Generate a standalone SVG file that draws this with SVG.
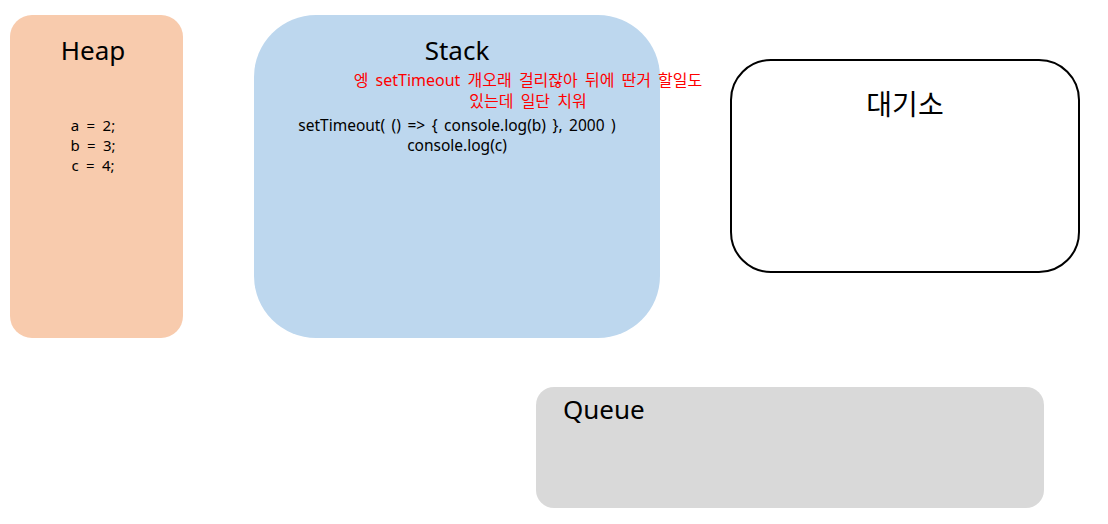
<svg xmlns="http://www.w3.org/2000/svg" width="1108" height="524" viewBox="0 0 1108 524">
<style>
text{font-family:"Noto Sans","Noto Sans CJK KR",sans-serif;fill:#000}
.t{font-size:26px}
.k{font-size:28px}
.s{font-size:15px;word-spacing:3.5px}
.c{font-size:15.5px;word-spacing:2.5px}
.r{font-size:16px;fill:#ff0000;word-spacing:3px}
</style>
<rect width="1108" height="524" fill="#fff"/>
<g id="heap">
<rect x="10" y="15" width="173" height="323" rx="22" fill="#f8cbad"/>
<text class="t" x="93" y="60" text-anchor="middle">Heap</text>
<text class="s" x="93" y="131" text-anchor="middle">a = 2;</text>
<text class="s" x="93" y="151" text-anchor="middle">b = 3;</text>
<text class="s" x="93" y="171" text-anchor="middle">c = 4;</text>
</g>
<g id="stack">
<rect x="254" y="15" width="406" height="323" rx="62" fill="#bdd7ee"/>
<text class="t" x="457" y="60" text-anchor="middle">Stack</text>
<text class="r" x="528" y="86" text-anchor="middle">엥 setTimeout 개오래 걸리잖아 뒤에 딴거 할일도</text>
<text class="r" x="528" y="107" text-anchor="middle">있는데 일단 치워</text>
<text class="c" x="457" y="131" text-anchor="middle">setTimeout( () =&gt; { console.log(b) }, 2000 )</text>
<text class="c" x="457" y="151" text-anchor="middle">console.log(c)</text>
</g>
<g id="waiting">
<rect x="731" y="60" width="348" height="212" rx="40" fill="#fff" stroke="#000" stroke-width="2"/>
<text class="k" x="905" y="115" text-anchor="middle">대기소</text>
</g>
<g id="queue">
<rect x="536" y="387" width="508" height="121" rx="18" fill="#d9d9d9"/>
<text class="t" x="563" y="419">Queue</text>
</g>
<g id="connectors"></g>
</svg>
